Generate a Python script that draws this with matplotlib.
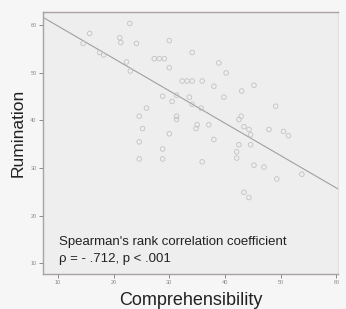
import matplotlib
matplotlib.use("Agg")
import matplotlib.pyplot as plt

comprehensibility = [22.9, 21.1, 21.3, 24.1, 15.7, 14.5, 17.5, 18.2, 22.3, 23.0,
                     30.0, 27.3, 28.2, 29.1, 34.1, 38.9, 40.2, 43.0, 45.2, 39.8,
                     30.0, 32.3, 33.2, 34.1, 35.9, 38.0, 28.8, 31.3, 33.6, 34.1,
                     35.7, 31.3, 35.0, 37.1, 34.8, 42.9, 42.5, 43.4, 44.3, 44.6,
                     38.0, 42.5, 44.6, 42.1, 42.1, 35.9, 45.2, 47.0, 49.3, 43.4,
                     44.3, 53.8, 47.9, 50.5, 51.4, 49.1,
                     25.9, 24.6, 25.2, 30.0, 24.6, 28.8, 24.6, 28.8, 30.5, 31.3]
rumination = [60.4, 57.4, 56.4, 56.2, 58.3, 56.2, 54.3, 53.8, 52.3, 50.4,
              56.8, 53.0, 53.0, 53.0, 54.3, 52.1, 50.0, 46.2, 47.4, 44.9,
              51.1, 48.3, 48.3, 48.3, 48.3, 47.2, 45.1, 45.3, 44.9, 43.4,
              42.6, 40.9, 39.1, 39.1, 38.3, 40.9, 40.2, 38.7, 38.1, 37.0,
              36.0, 34.9, 34.9, 33.4, 32.1, 31.3, 30.6, 30.2, 27.7, 24.9,
              23.8, 28.7, 38.1, 37.7, 36.8, 43.0,
              42.6, 40.9, 38.3, 37.2, 35.5, 34.0, 31.9, 31.9, 44.0, 40.2]

fit_x = [7.3, 60.3]
fit_y = [61.7, 25.6]

x_ticks = [10, 20, 30, 40, 50, 60]
y_ticks = [10, 20, 30, 40, 50, 60]

plt.rcParams['font.family'] = ['Liberation Sans', 'DejaVu Sans']

fig = plt.figure(figsize=(3.46, 3.09), dpi=100, facecolor='#f6f6f6')
ax = fig.add_axes([0.124, 0.113, 0.853, 0.848])
ax.set_facecolor('#eeeeee')

ax.scatter(comprehensibility, rumination, s=11, facecolors='none',
           edgecolors='#c2c2c2', linewidths=0.6, zorder=3)
ax.plot(fit_x, fit_y, color='#a0a0a0', linewidth=0.8, zorder=2)

ax.set_xlim(7.3, 60.3)
ax.set_ylim(7.7, 62.8)
ax.set_xticks(x_ticks)
ax.set_yticks(y_ticks)
ax.tick_params(axis='both', labelsize=4, colors='#8a8a8a', length=3, width=0.7,
               direction='out', pad=1.5)

for side in ['left', 'bottom', 'top']:
    ax.spines[side].set_color('#aaa2a2')
    ax.spines[side].set_linewidth(1.0)
ax.spines['right'].set_color('#e2e2e2')
ax.spines['right'].set_linewidth(0.8)

ax.set_ylabel('Rumination', fontsize=12.5, color='#222222')
ax.yaxis.set_label_coords(-0.058, 0.54)
ax.set_xlabel('Comprehensibility', fontsize=13, color='#222222', labelpad=5)

ax.text(0.055, 0.122, "Spearman's rank correlation coefficient", transform=ax.transAxes,
        fontsize=9.5, color='#222222', va='center', ha='left')
ax.text(0.055, 0.058, "\u03c1 = - .712, p < .001", transform=ax.transAxes,
        fontsize=9.5, color='#222222', va='center', ha='left')

fig.savefig('out.png', dpi=100, facecolor=fig.get_facecolor())
